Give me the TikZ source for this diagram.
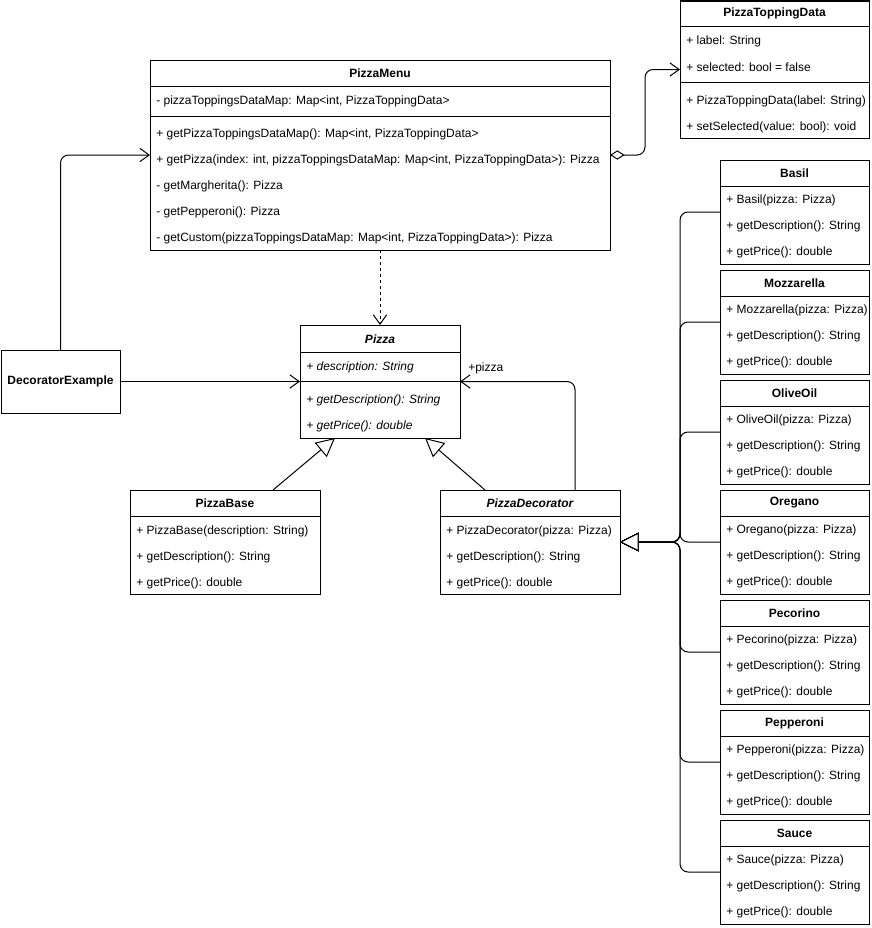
\documentclass[tikz,border=0pt]{standalone}
\usepackage{fontspec}
\setmainfont{Liberation Sans}
\usetikzlibrary{arrows.meta, positioning, calc}

\def\px{0.75pt}
\newcommand{\umlfont}{\fontsize{9}{11}\selectfont}
\tikzset{
  box/.style={draw, line width=0.75pt, fill=white, anchor=north west, inner sep=0pt, outer sep=0pt},
  head/.style={font=\umlfont\bfseries},
  headit/.style={font=\umlfont\bfseries\itshape},
  row/.style={anchor=west, inner sep=0pt, yshift=-1.2pt},
  rowit/.style={row, font=\umlfont\itshape},
  sep/.style={line width=0.75pt},
  assoc/.style={line width=0.75pt, rounded corners=6pt, -{Straight Barb[length=7pt,width=10pt]}},
  dep/.style={line width=0.75pt, dash pattern=on 2.25pt off 2.25pt, -{Straight Barb[length=7pt,width=10pt]}},
  inherit/.style={line width=0.75pt, rounded corners=6pt, -{Triangle[open,length=14pt,width=14pt,fill=white]}},
  aggr/.style={line width=0.75pt, rounded corners=6pt, {Diamond[open,length=11pt,width=7pt,fill=white]}-{Straight Barb[length=7pt,width=10pt]}}
}

\begin{document}
\begin{tikzpicture}[x=0.75pt, y=-0.75pt, font=\umlfont]
    \useasboundingbox (0,0) rectangle (871,928);

    % PizzaToppingData
    \node[box, minimum width=189*\px, minimum height=137*\px] (ptd) at (680,1) {};
    \node[head] at (774.5,13) {PizzaToppingData};
    \draw[sep] (680,26) -- (869,26);
    \node[row] at (686,40) {+ label: String};
    \node[row] at (686,66) {+ selected: bool = false};
    \draw[sep] (680,82) -- (869,82);
    \node[row] at (686,100) {+ PizzaToppingData(label: String)};
    \node[row] at (686,126) {+ setSelected(value: bool): void};

    % PizzaMenu
    \node[box, minimum width=460*\px, minimum height=190*\px] (menu) at (150,60) {};
    \node[head] at (380,73) {PizzaMenu};
    \draw[sep] (150,86) -- (610,86);
    \node[row] at (156,100) {- pizzaToppingsDataMap: Map<int, PizzaToppingData>};
    \draw[sep] (150,116) -- (610,116);
    \node[row] at (156,133) {+ getPizzaToppingsDataMap(): Map<int, PizzaToppingData>};
    \node[row] at (156,159) {+ getPizza(index: int, pizzaToppingsDataMap: Map<int, PizzaToppingData>): Pizza};
    \node[row] at (156,185) {- getMargherita(): Pizza};
    \node[row] at (156,211) {- getPepperoni(): Pizza};
    \node[row] at (156,237) {- getCustom(pizzaToppingsDataMap: Map<int, PizzaToppingData>): Pizza};

    % Pizza
    \node[box, minimum width=160*\px, minimum height=113*\px] (pizza) at (300,325) {};
    \node[headit] at (380,339) {Pizza};
    \draw[sep] (300,352) -- (460,352);
    \node[rowit] at (306,366) {+ description: String};
    \draw[sep] (300,381) -- (460,381);
    \node[rowit] at (306,399) {+ getDescription(): String};
    \node[rowit] at (306,425) {+ getPrice(): double};

    % DecoratorExample
    \node[box, minimum width=119*\px, minimum height=63*\px, font=\umlfont\bfseries] (demo) at (1,350) {DecoratorExample};

    % PizzaBase
    \node[box, minimum width=190*\px, minimum height=104*\px] (base) at (130,490) {};
    \node[head] at (225,503) {PizzaBase};
    \draw[sep] (130,516) -- (320,516);
    \node[row] at (136,530) {+ PizzaBase(description: String)};
    \node[row] at (136,556) {+ getDescription(): String};
    \node[row] at (136,582) {+ getPrice(): double};

    % PizzaDecorator
    \node[box, minimum width=180*\px, minimum height=104*\px] (dec) at (440,490) {};
    \node[headit] at (530,503) {PizzaDecorator};
    \draw[sep] (440,516) -- (620,516);
    \node[row] at (446,530) {+ PizzaDecorator(pizza: Pizza)};
    \node[row] at (446,556) {+ getDescription(): String};
    \node[row] at (446,582) {+ getPrice(): double};

    \coordinate (junc) at (680,542);

    % toppings
    \foreach \name/\ty in {Basil/160, Mozzarella/270, OliveOil/380, Oregano/490, Pecorino/600, Pepperoni/710, Sauce/820} {
        \node[box, minimum width=149*\px, minimum height=104*\px] (\name) at (720,\ty) {};
        \node[head] at (794.5,\ty+13) {\name};
        \draw[sep] (720,\ty+26) -- (869,\ty+26);
        \node[row] at (726,\ty+39) {+ \name(pizza: Pizza)};
        \node[row] at (726,\ty+65) {+ getDescription(): String};
        \node[row] at (726,\ty+91) {+ getPrice(): double};
        \draw[inherit] (\name.west) -| (junc) -- (dec.east);
    }

    % connectors
    \draw[aggr] (menu.east) -- ++(35,0) |- (ptd.west);
    \draw[assoc] (demo.north) |- (menu.west);
    \draw[assoc] (demo.east) -- (pizza.west);
    \draw[dep] (menu.south) -- (pizza.north);
    \draw[assoc] ($(dec.north east)+(-45,0)$) |- (pizza.east);
    \node[row] (pizzalbl) at ($(pizza.east)+(8,-15)$) {+pizza};
    \draw[inherit] ($(base.north)+(48,0)$) -- ($(pizza.south)+(-45,0)$);
    \draw[inherit] ($(dec.north)+(-45,0)$) -- ($(pizza.south)+(45,0)$);
\end{tikzpicture}
\end{document}
